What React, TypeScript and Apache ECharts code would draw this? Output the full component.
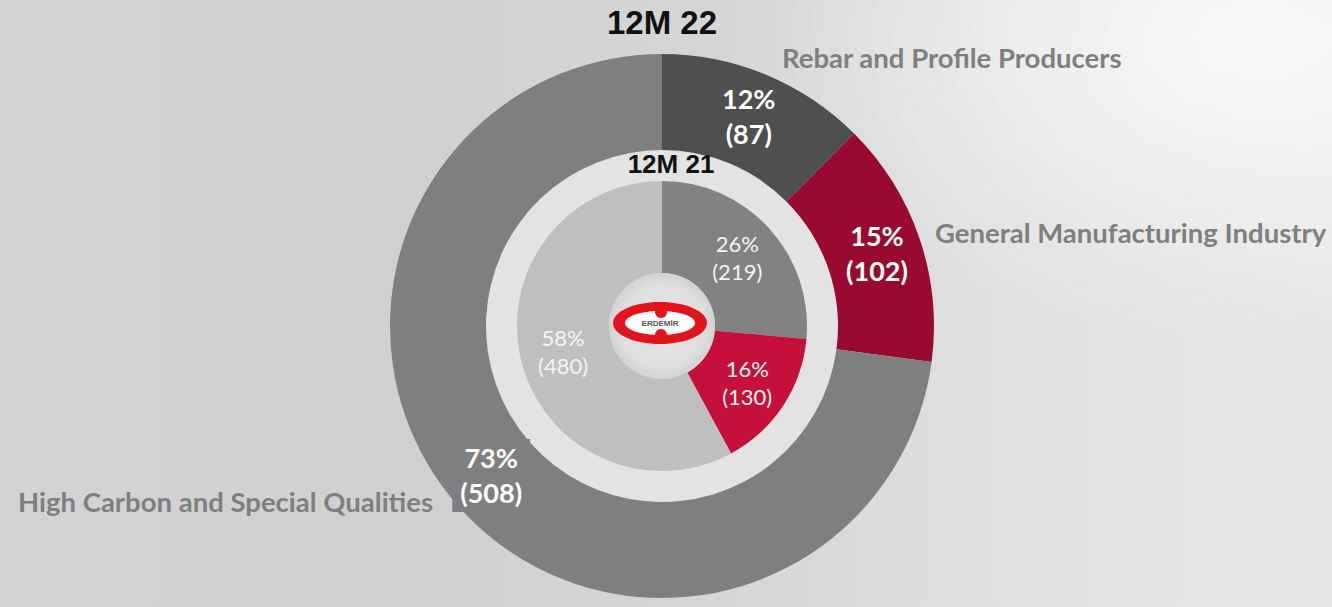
import React, { useEffect, useRef } from "react";
import * as echarts from "echarts";

const outerTitle = "12M 22";
const innerTitle = "12M 21";
const categories = [
  "Rebar and Profile Producers",
  "General Manufacturing Industry",
  "High Carbon and Special Qualities",
];
const values2022 = [87, 102, 508];
const values2021 = [219, 130, 480];
const outerColors = ["#4f4f4f", "#990a30", "#7f7f7f"];
const innerColors = ["#828282", "#c5103a", "#bfbfbf"];

export default function App() {
  const ref = useRef<HTMLDivElement>(null);
  useEffect(() => {
    if (!ref.current) return;
    const chart = echarts.init(ref.current, undefined, { renderer: "svg" });
    const cx = 662;
    const cy = 326;
    const fmt = (p: any) => `${Math.round(p.percent)}%\n(${p.value})`;
    const nameFont = "bold 27.5px Lato, sans-serif";
    chart.setOption({
      animation: false,
      backgroundColor: "transparent",
      series: [
        {
          type: "pie",
          silent: true,
          center: [cx, cy],
          radius: [144, 177],
          z: 1,
          label: { show: false },
          labelLine: { show: false },
          data: [{ value: 1, itemStyle: { color: "#e3e3e3" } }],
        },
        {
          type: "pie",
          name: outerTitle,
          center: [cx, cy],
          radius: [176, 272],
          startAngle: 90,
          clockwise: true,
          z: 2,
          itemStyle: { borderWidth: 0 },
          label: {
            show: true,
            position: "inside",
            formatter: fmt,
            color: "#ffffff",
            fontFamily: "Lato",
            fontWeight: "bold",
            fontSize: 27,
            lineHeight: 35,
          },
          labelLine: { show: false },
          data: categories.map((c, i) => ({
            name: c,
            value: values2022[i],
            itemStyle: { color: outerColors[i] },
            label:
              i === 2
                ? { backgroundColor: outerColors[i], padding: [3, 8, 0, 8] }
                : {},
          })),
        },
        {
          type: "pie",
          name: innerTitle,
          center: [cx, cy],
          radius: [53, 145],
          startAngle: 90,
          clockwise: true,
          z: 3,
          itemStyle: { borderWidth: 0 },
          label: {
            show: true,
            position: "inside",
            formatter: fmt,
            color: "#f4f4f4",
            fontFamily: "Lato",
            fontSize: 22,
            lineHeight: 28,
          },
          labelLine: { show: false },
          data: categories.map((c, i) => ({
            name: c,
            value: values2021[i],
            itemStyle: { color: innerColors[i] },
          })),
        },
      ],
      graphic: [
        {
          type: "text",
          z: 100,
          x: cx,
          y: 22,
          style: {
            text: outerTitle,
            fill: "#111111",
            font: "bold 33px 'Liberation Sans', Arial, sans-serif",
            textAlign: "center",
            textVerticalAlign: "middle",
          },
        },
        {
          type: "text",
          z: 100,
          x: cx + 9,
          y: 164,
          style: {
            text: innerTitle,
            fill: "#111111",
            font: "bold 26px 'Liberation Sans', Arial, sans-serif",
            textAlign: "center",
            textVerticalAlign: "middle",
          },
        },
        {
          type: "text",
          z: 100,
          x: 782,
          y: 57,
          style: {
            text: categories[0],
            fill: "#7f7f7f",
            font: nameFont,
            textAlign: "left",
            textVerticalAlign: "middle",
          },
        },
        {
          type: "text",
          z: 100,
          x: 935,
          y: 232,
          style: {
            text: categories[1],
            fill: "#7f7f7f",
            font: nameFont,
            textAlign: "left",
            textVerticalAlign: "middle",
          },
        },
        {
          type: "text",
          z: 100,
          x: 18,
          y: 501,
          style: {
            text: categories[2],
            fill: "#7f7f7f",
            font: nameFont,
            textAlign: "left",
            textVerticalAlign: "middle",
          },
        },
        {
          type: "group",
          x: cx,
          y: cy,
          z: 100,
          children: [
            {
              type: "circle",
              z: 100,
              shape: { cx: 0, cy: 0, r: 53 },
              style: {
                fill: {
                  type: "radial",
                  x: 0.5,
                  y: 0.5,
                  r: 0.5,
                  colorStops: [
                    { offset: 0, color: "#e6e6e6" },
                    { offset: 0.8, color: "#dedede" },
                    { offset: 1, color: "#d2d2d2" },
                  ],
                },
              },
            },
            {
              type: "ellipse",
              z: 101,
              shape: { cx: -2, cy: -3, rx: 47, ry: 21 },
              style: { fill: "#e2141c" },
            },
            {
              type: "ellipse",
              z: 102,
              shape: { cx: -2, cy: -3, rx: 35, ry: 12 },
              style: { fill: "#ffffff" },
            },
            {
              type: "circle",
              z: 103,
              shape: { cx: -1, cy: -14, r: 6 },
              style: { fill: "#e2141c" },
            },
            {
              type: "circle",
              z: 103,
              shape: { cx: -1, cy: 9, r: 6 },
              style: { fill: "#e2141c" },
            },
            {
              type: "text",
              z: 104,
              x: -2,
              y: -3,
              style: {
                text: "ERDEMİR",
                fill: "#555555",
                font: "bold 8px 'Liberation Sans', Arial, sans-serif",
                textAlign: "center",
                textVerticalAlign: "middle",
              },
            },
          ],
        },
      ],
    });
    return () => chart.dispose();
  }, []);
  return (
    <div
      style={{
        position: "fixed",
        left: 0,
        top: 0,
        width: 1332,
        height: 607,
        background:
          "radial-gradient(ellipse 500px 300px at 1250px 40px, rgba(255,255,255,0.75), rgba(255,255,255,0) 100%), linear-gradient(90deg, #d3d3d3 0%, #d0d0d0 30%, #d6d6d6 55%, #e0e0e0 75%, #e6e6e6 100%)",
      }}
    >
      <div ref={ref} style={{ width: 1332, height: 607 }} />
    </div>
  );
}
